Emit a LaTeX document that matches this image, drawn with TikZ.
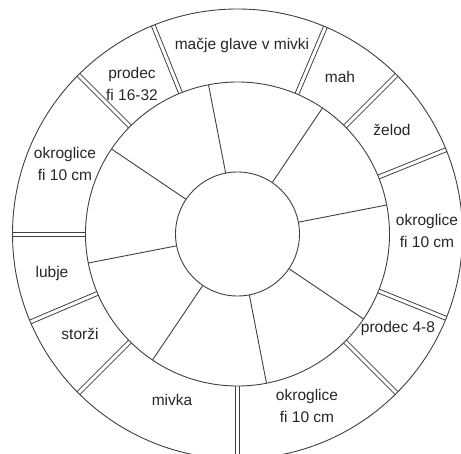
\documentclass[tikz,border=0pt]{standalone}
\usepackage{fontspec}
\setmainfont{Liberation Sans}
\usetikzlibrary{backgrounds}
\definecolor{ln}{gray}{0.25}
\definecolor{txt}{gray}{0.15}
\begin{document}
\begin{tikzpicture}[x=1pt,y=1pt,
  ring/.style={circle, draw=ln, line width=0.9pt, inner sep=0pt, outer sep=0pt},
  divline/.style={draw=ln, line width=0.8pt},
  spoke/.style={draw=ln, line width=0.9pt},
  lbl/.style={font=\fontsize{15.5}{22.5}\selectfont, align=center, text=txt, inner sep=0pt}]
\useasboundingbox (0,0) rectangle (461,-454);
\clip (0,0) rectangle (461,-454);
\coordinate (c) at (237.5,-234);
\node[ring, minimum size=450pt] (outer) at (c) {};
\node[ring, minimum size=304pt] (mid) at (c) {};
\node[ring, minimum size=124pt] (inner) at (c) {};
\begin{scope}[on background layer]
\foreach \a in {112.5,67.5,45,22.5,-22.5,-45,-90,-135,-157.5,180,135}{
  \draw[divline] ([shift={({\a+90}:2)}]mid.\a) -- ([shift={({\a+90}:2)}]outer.\a);
  \draw[divline] ([shift={({\a-90}:2)}]mid.\a) -- ([shift={({\a-90}:2)}]outer.\a);
}
\end{scope}
\foreach \a in {101,56,11,-34,-79,-124,-169,146}{
  \draw[spoke] (inner.\a) -- (mid.\a);
}
\node[lbl] (t1) at (242,-45) {mačje glave v mivki};
\node[lbl] (t2) at (132,-84) {prodec\\fi 16-32};
\node[lbl] (t3) at (340,-77) {mah};
\node[lbl] (t4) at (392,-130) {želod};
\node[lbl] (t5) at (427,-231) {okroglice\\fi 10 cm};
\node[lbl] (t6) at (398,-328) {prodec 4-8};
\node[lbl] (t7) at (307,-406) {okroglice\\fi 10 cm};
\node[lbl] (t8) at (172,-400) {mivka};
\node[lbl] (t9) at (80,-334) {storži};
\node[lbl] (t10) at (52,-273) {lubje};
\node[lbl] (t11) at (65,-164) {okroglice\\fi 10 cm};
\end{tikzpicture}
\end{document}
